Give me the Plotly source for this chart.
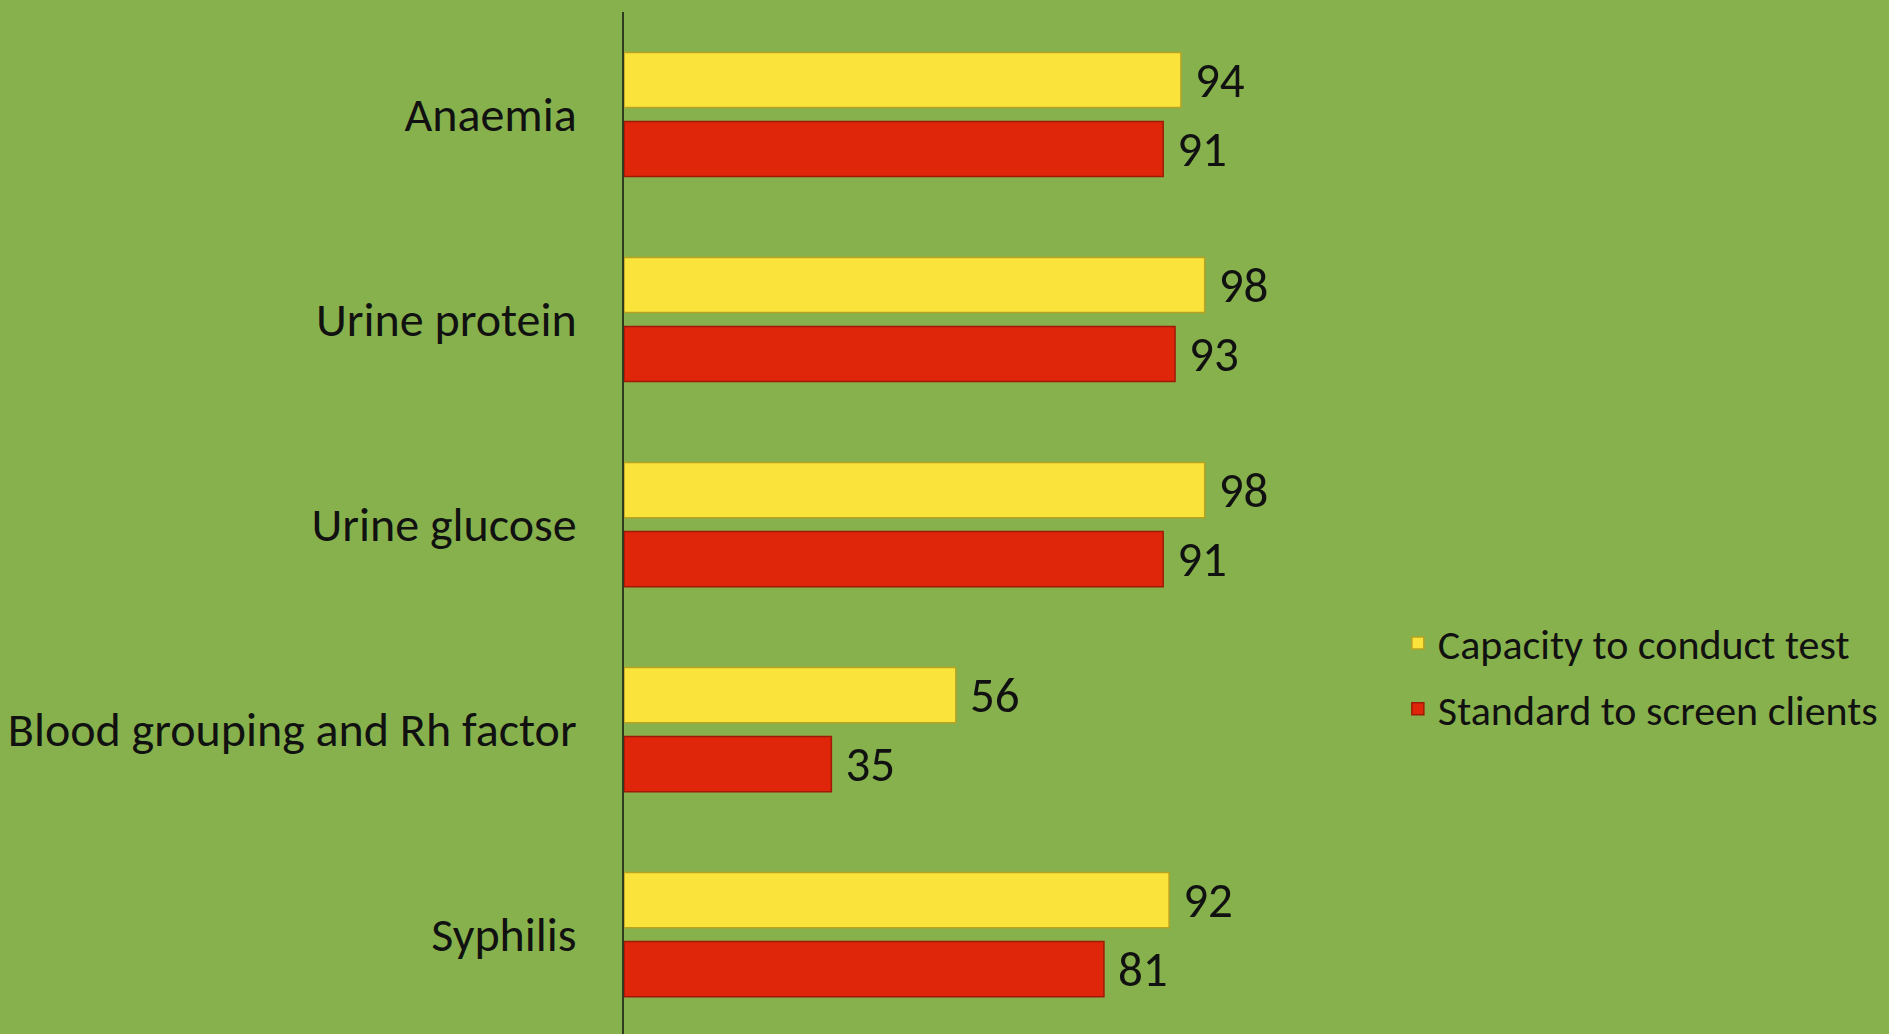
import plotly.graph_objects as go

categories = ["Anaemia", "Urine protein", "Urine glucose", "Blood grouping and Rh factor", "Syphilis"]
capacity = [94, 98, 98, 56, 92]
standard = [91, 93, 91, 35, 81]
series_names = ["Capacity to conduct test", "Standard to screen clients"]

FONT = "Carlito, Calibri, Lato, sans-serif"
BG = "#87B14C"

fig = go.Figure()
fig.add_trace(go.Bar(
    y=categories, x=capacity, orientation="h", name=series_names[0],
    marker=dict(color="#FAE43C", line=dict(color="#B8A222", width=1.5)),
    text=[f"\u00a0{v}" for v in capacity], textposition="outside",
    textfont=dict(family=FONT, size=49, color="#111111"),
    cliponaxis=False, legendgroup="a",
))
fig.add_trace(go.Bar(
    y=categories, x=standard, orientation="h", name=series_names[1],
    marker=dict(color="#E0260A", line=dict(color="#9E1A06", width=1.5)),
    text=[f"\u00a0{v}" for v in standard], textposition="outside",
    textfont=dict(family=FONT, size=49, color="#111111"),
    cliponaxis=False, legendgroup="b",
))

fig.update_layout(
    width=1889, height=1034,
    margin=dict(l=624, r=0, t=12, b=0, autoexpand=False),
    paper_bgcolor=BG, plot_bgcolor=BG,
    barmode="group", bargap=0.327, bargroupgap=0.2,
    font=dict(family=FONT, color="#111111"),
    showlegend=True,
    legend=dict(
        xref="container", yref="container",
        x=0.740, y=0.346, xanchor="left", yanchor="middle",
        bgcolor="rgba(0,0,0,0)", font=dict(family=FONT, size=42, color="#111111"),
        traceorder="grouped", tracegroupgap=8,
    ),
    xaxis=dict(range=[0, 213.5], showgrid=False, zeroline=False, showline=False,
               showticklabels=False, ticks=""),
    yaxis=dict(range=[4.485, -0.5], showgrid=False, zeroline=False,
               showline=True, linecolor="#2E3B1E", linewidth=1.5,
               ticks="", ticklabelstandoff=36,
               tickfont=dict(family=FONT, size=48, color="#111111")),
)
fig.update_traces(constraintext="none")

fig.write_html(
    "out.html",
    config={"displayModeBar": False},
    post_script="document.body.style.margin='0';document.body.style.overflow='hidden';",
)
